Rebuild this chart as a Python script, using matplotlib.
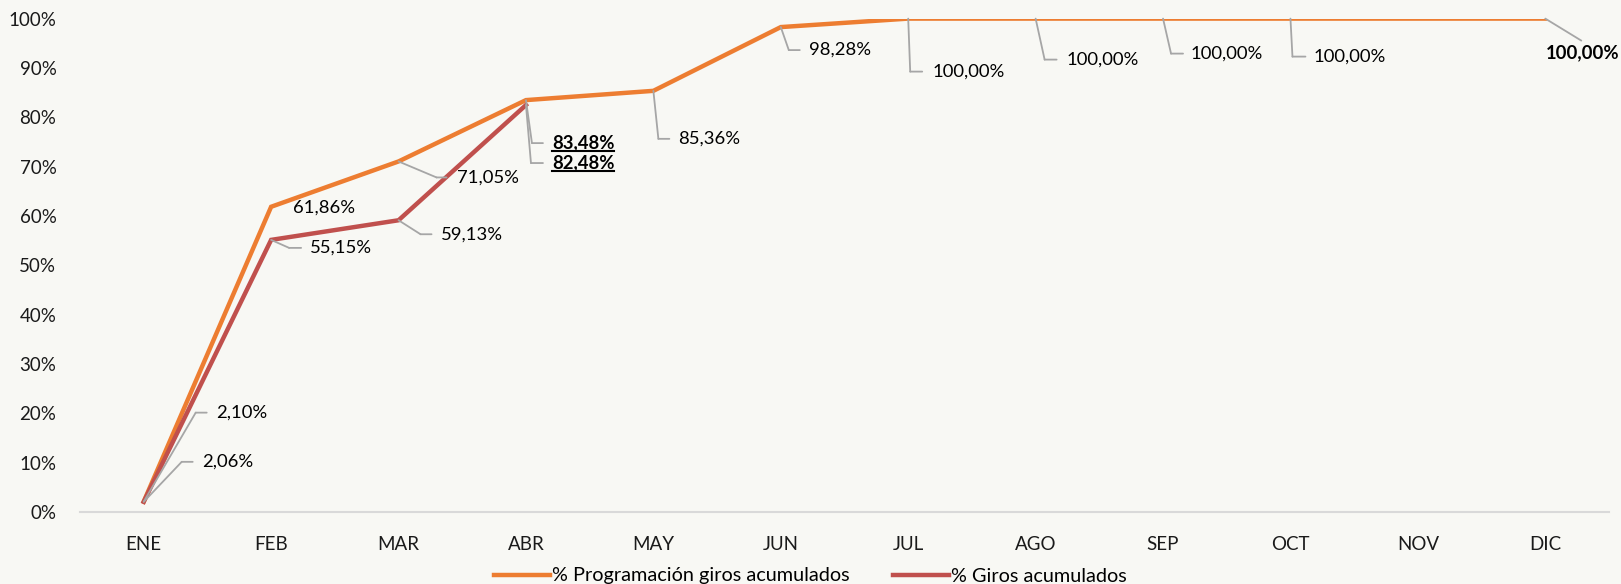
import matplotlib.pyplot as plt
from matplotlib.transforms import offset_copy
from matplotlib.lines import Line2D

plt.rcParams['font.family'] = ['Lato', 'DejaVu Sans']

meses = ['ENE', 'FEB', 'MAR', 'ABR', 'MAY', 'JUN', 'JUL', 'AGO', 'SEP', 'OCT', 'NOV', 'DIC']
programacion = [2.10, 61.86, 71.05, 83.48, 85.36, 98.28, 100, 100, 100, 100, 100, 100]
giros = [2.06, 55.15, 59.13, 82.48]
serie_prog = '% Programación giros acumulados'
serie_giros = '% Giros acumulados'

naranja = '#ED7D31'
rojo = '#C0504D'
gris = '#a6a6a6'
fondo = '#f8f8f4'

fig = plt.figure(figsize=(16.21, 5.84), dpi=100, facecolor=fondo)
ax = fig.add_axes([80 / 1621, 1 - 512 / 584, 1529 / 1621, (512 - 18.6) / 584])
ax.set_facecolor(fondo)

ax.plot(range(len(programacion)), programacion, color=naranja, lw=3.2, label=serie_prog,
        solid_joinstyle='miter', zorder=3)
ax.plot(range(len(giros)), giros, color=rojo, lw=3.2, label=serie_giros,
        solid_joinstyle='miter', zorder=3)

ax.set_xlim(-0.5, len(meses) - 0.5)
ax.set_ylim(0, 100)
ax.set_xticks(range(len(meses)))
ax.set_xticklabels(meses)
ax.set_yticks(range(0, 101, 10))
ax.set_yticklabels([f'{v}%' for v in range(0, 101, 10)])
ax.tick_params(length=0, labelsize=13.5, colors='#1a1a1a')
ax.tick_params(axis='x', pad=17)
ax.tick_params(axis='y', pad=17)
for s in ['top', 'right', 'left']:
    ax.spines[s].set_visible(False)
ax.spines['bottom'].set_color('#d9d9d9')
ax.spines['bottom'].set_linewidth(1.5)

# etiquetas: (serie, indice, codo dx, codo dy, fin tramo dx, texto dx, texto dy, negrita, subrayado)
etiquetas = [
    ('p', 0, 52, 89, 63, 72, 89, False, False),
    ('g', 0, 38, 40, 49, 58, 40, False, False),
    ('p', 1, None, None, None, 22, -1, False, False),
    ('g', 1, 18, -8, 30, 39, -8, False, False),
    ('p', 2, 38, -16, 48, 58, -16, False, False),
    ('g', 2, 22, -14, 33, 42, -14, False, False),
    ('p', 3, 6, -43, 17, 26, -43, True, True),
    ('g', 3, 5, -58, 17, 26, -58, True, True),
    ('p', 4, 5, -48, 16, 25, -48, False, False),
    ('p', 5, 8, -23, 19, 28, -23, False, False),
    ('p', 6, 2, -53, 14, 24, -53, False, False),
    ('p', 7, 9, -41, 21, 31, -41, False, False),
    ('p', 8, 8, -35, 20, 28, -35, False, False),
    ('p', 9, 2, -38, 15, 23, -38, False, False),
    ('p', 11, 36, -22, 36, 37, -34, True, False),
]

subrayar = []
for serie, i, ex, ey, sx, tx, ty, negrita, sub in etiquetas:
    v = programacion[i] if serie == 'p' else giros[i]
    if ex is not None:
        t_codo = offset_copy(ax.transData, fig=fig, x=ex, y=ey, units='dots')
        t_fin = offset_copy(ax.transData, fig=fig, x=sx, y=ey, units='dots')
        ax.annotate('', xy=(i, v), xycoords='data', xytext=(i, v), textcoords=t_codo,
                    arrowprops=dict(arrowstyle='-', color=gris, lw=1.3, shrinkA=0, shrinkB=0))
        if sx != ex:
            ax.annotate('', xy=(i, v), xycoords=t_fin, xytext=(i, v), textcoords=t_codo,
                        arrowprops=dict(arrowstyle='-', color=gris, lw=1.3, shrinkA=0, shrinkB=0))
    t_txt = offset_copy(ax.transData, fig=fig, x=tx, y=ty, units='dots')
    txt = f'{v:.2f}%'.replace('.', ',')
    ha = 'center' if i == len(meses) - 1 else 'left'
    t = ax.text(i, v, txt, transform=t_txt, ha=ha, va='center', fontsize=13.3,
                fontweight='bold' if negrita else 'normal', color='black', clip_on=False)
    if sub:
        subrayar.append(t)

ax.legend(loc='center', bbox_to_anchor=(0.5, 8 / 584), bbox_transform=fig.transFigure,
          ncol=2, frameon=False, fontsize=14.3, handlelength=2.8, handletextpad=0.1,
          columnspacing=2.2, borderpad=0)

fig.canvas.draw()
r = fig.canvas.get_renderer()
for t in subrayar:
    bb = t.get_window_extent(r)
    y0 = bb.y0 + 1
    p0 = fig.transFigure.inverted().transform((bb.x0, y0))
    p1 = fig.transFigure.inverted().transform((bb.x1, y0))
    fig.add_artist(Line2D([p0[0], p1[0]], [p0[1], p1[1]], color='black', lw=1.5))

fig.savefig('out.png', dpi=100, facecolor=fondo)
